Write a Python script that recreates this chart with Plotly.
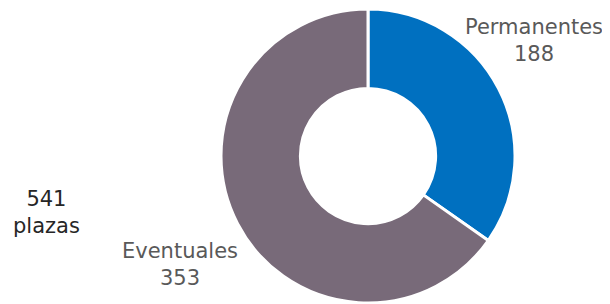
import plotly.graph_objects as go

labels = ["Permanentes", "Eventuales"]
values = [188, 353]
colors = ["#0070C0", "#786A79"]
total_label = "541<br>plazas"

W, H, OFF = 610, 304, 8  # page body margin offset

def px(x): return (x - OFF) / W
def py(y): return 1 - (y - OFF) / H

fig = go.Figure(go.Pie(
    labels=labels, values=values, hole=0.46, sort=False,
    direction="clockwise", rotation=0,
    marker=dict(colors=colors, line=dict(color="white", width=3)),
    textinfo="none", hoverinfo="label+value",
    domain=dict(x=[px(221), px(515)], y=[py(303), py(9)]),
    showlegend=False,
))

font = "DejaVu Sans, sans-serif"
fig.add_annotation(x=px(534), y=py(40), xref="paper", yref="paper",
                   xanchor="center", yanchor="middle",
                   text=f"{labels[0]}<br>{values[0]}", showarrow=False,
                   font=dict(family=font, size=21, color="#595959"))
fig.add_annotation(x=px(180), y=py(264), xref="paper", yref="paper",
                   xanchor="center", yanchor="middle",
                   text=f"{labels[1]}<br>{values[1]}", showarrow=False,
                   font=dict(family=font, size=21, color="#595959"))
fig.add_annotation(x=px(46), y=py(212), xref="paper", yref="paper",
                   xanchor="center", yanchor="middle",
                   text=total_label, showarrow=False,
                   font=dict(family=font, size=21, color="#262626"))

fig.update_layout(width=W, height=H, margin=dict(l=0, r=0, t=0, b=0),
                  paper_bgcolor="white", plot_bgcolor="white")
fig.write_html("out.html")
